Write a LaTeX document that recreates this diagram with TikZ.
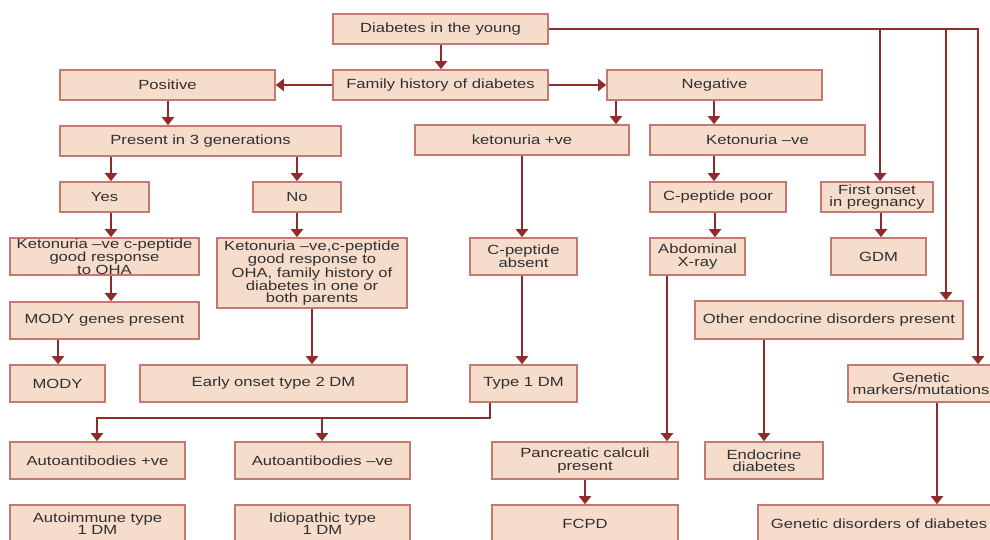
\documentclass[tikz,border=0pt]{standalone}
\usepackage{fontspec}
\setmainfont[FakeStretch=1.25]{Liberation Sans}
\usetikzlibrary{arrows.meta}
\definecolor{boxfill}{HTML}{F6DCCB}
\definecolor{boxline}{HTML}{C47A72}
\definecolor{arrcol}{HTML}{8E2B2B}
\definecolor{txt}{HTML}{303030}
\newcommand\bx[6]{\node[bx, minimum width={(#4-#2)*1pt}, minimum height={(#5-#3)*1pt}] (#1) at ({(#2+#4)/2},{(#3+#5)/2}) {#6};}
\begin{document}
\begin{tikzpicture}[x=1pt,y=-1pt,
  bx/.style={draw=boxline, fill=boxfill, line width=1.6pt, inner sep=0pt, align=center, text=txt,
    font=\fontsize{13.3}{12.2}\selectfont},
  arr/.style={draw=arrcol, line width=2pt, -{Triangle[width=12pt,length=8pt]}},
  ln/.style={draw=arrcol, line width=2pt}]
\useasboundingbox (0,0) rectangle (990,540);
\clip (0,0) rectangle (990,540);
% boxes
\bx{dy}{333}{14}{548}{44}{Diabetes in the young}
\bx{fh}{333}{70}{548}{100}{Family history of diabetes}
\bx{pos}{60}{70}{275}{100}{Positive}
\bx{neg}{607}{70}{822}{100}{Negative}
\bx{p3}{60}{126}{341}{156}{Present in 3 generations}
\bx{kp}{415}{125}{629}{155}{ketonuria +ve}
\bx{kn}{650}{125}{865}{155}{Ketonuria –ve}
\bx{yes}{60}{182}{149}{212}{Yes}
\bx{no}{253}{182}{341}{212}{No}
\bx{ka}{10}{238}{199}{275}{Ketonuria –ve c-peptide\\good response\\to OHA}
\bx{kb}{217}{238}{407}{308}{Ketonuria –ve,c-peptide\\good response to\\OHA, family history of\\diabetes in one or\\both parents}
\bx{mg}{10}{302}{199}{339}{MODY genes present}
\bx{mody}{10}{365}{105}{402}{MODY}
\bx{eo}{140}{365}{407}{402}{Early onset type 2 DM}
\bx{ca}{470}{238}{577}{275}{C-peptide\\absent}
\bx{t1}{470}{365}{577}{402}{Type 1 DM}
\bx{cp}{650}{182}{786}{212}{C-peptide poor}
\bx{ax}{650}{238}{745}{275}{Abdominal\\X-ray}
\bx{fo}{821}{182}{933}{212}{First onset\\in pregnancy}
\bx{gdm}{831}{238}{926}{275}{GDM}
\bx{oe}{695}{301}{963}{339}{Other endocrine disorders present}
\bx{gm}{848}{365}{994}{402}{Genetic\\markers/mutations}
\bx{ap}{10}{442}{185}{479}{Autoantibodies +ve}
\bx{an}{235}{442}{410}{479}{Autoantibodies –ve}
\bx{pc}{492}{442}{678}{479}{Pancreatic calculi\\present}
\bx{ed}{705}{442}{823}{479}{Endocrine\\diabetes}
\bx{ai}{10}{505}{185}{543}{Autoimmune type\\1 DM}
\bx{id}{235}{505}{410}{543}{Idiopathic type\\1 DM}
\bx{fc}{492}{505}{678}{543}{FCPD}
\bx{gd}{758}{505}{1000}{543}{Genetic disorders of diabetes}
% connectors
\draw[arr] (dy.south -| 441,0) -- (fh.north -| 441,0);
\draw[arr] (fh.west) -- (pos.east);
\draw[arr] (fh.east) -- (neg.west);
\draw[arr] (pos.south -| 168,0) -- (p3.north -| 168,0);
\draw[arr] (neg.south -| 616,0) -- (kp.north -| 616,0);
\draw[arr] (neg.south -| 714,0) -- (kn.north -| 714,0);
\draw[arr] (p3.south -| 111,0) -- (yes.north -| 111,0);
\draw[arr] (p3.south -| 297,0) -- (no.north -| 297,0);
\draw[arr] (yes.south -| 111,0) -- (ka.north -| 111,0);
\draw[arr] (ka.south -| 111,0) -- (mg.north -| 111,0);
\draw[arr] (mg.south -| 58,0) -- (mody.north -| 58,0);
\draw[arr] (no.south -| 297,0) -- (kb.north -| 297,0);
\draw[arr] (kb.south -| 312,0) -- (eo.north -| 312,0);
\draw[arr] (kp.south -| 522,0) -- (ca.north -| 522,0);
\draw[arr] (ca.south -| 522,0) -- (t1.north -| 522,0);
\coordinate (sp) at (490,418);
\draw[arr] (t1.south -| 490,0) -- (sp) -| (ap.north -| 97,0);
\draw[arr] (sp -| 322,0) -- (an.north -| 322,0);
\draw[arr] (kn.south -| 714,0) -- (cp.north -| 714,0);
\draw[arr] (cp.south -| 715,0) -- (ax.north -| 715,0);
\draw[arr] (ax.south -| 667,0) -- (pc.north -| 667,0);
\draw[arr] (pc.south -| 585,0) -- (fc.north -| 585,0);
\draw[arr] (oe.south -| 764,0) -- (ed.north -| 764,0);
\draw[arr] (gm.south -| 937,0) -- (gd.north -| 937,0);
\draw[arr] (fo.south -| 881,0) -- (gdm.north -| 881,0);
\draw[arr] (dy.east) -| (gm.north -| 978,0);
\draw[arr] (dy.east -| 880,0) -- (fo.north -| 880,0);
\draw[arr] (dy.east -| 946,0) -- (oe.north -| 946,0);
\end{tikzpicture}
\end{document}
